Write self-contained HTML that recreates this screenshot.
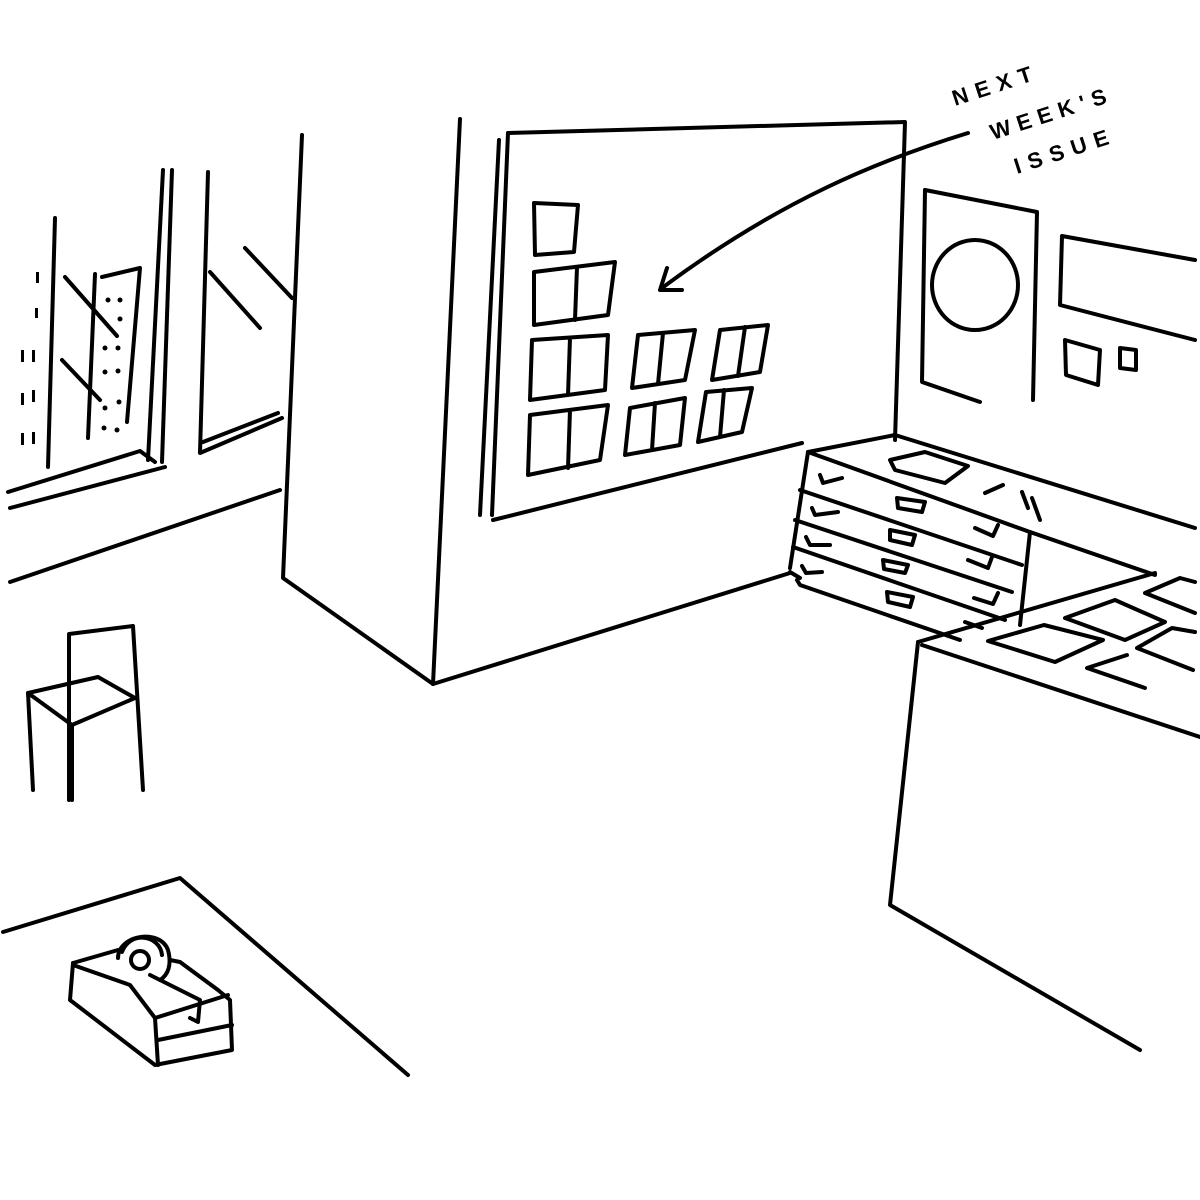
<!DOCTYPE html>
<html><head><meta charset="utf-8"><style>
html,body{margin:0;padding:0;background:#fff;}
svg{display:block}
text{font-family:"Liberation Sans",sans-serif;font-weight:bold;fill:#000}
</style></head><body>
<svg width="1200" height="1200" viewBox="0 0 1200 1200" xmlns="http://www.w3.org/2000/svg">
<g fill="none" stroke="#000" stroke-width="4" stroke-linecap="round" stroke-linejoin="round">
<!-- left windows -->
<path d="M55 218 L48 467"/>
<path d="M95 274 L88 438"/>
<path d="M102 277 L140 268 L127 422"/>
<path d="M65 277 L117 336"/>
<path d="M62 360 L100 400"/>
<path d="M163 170 L148 460"/>
<path d="M172 170 L162 462"/>
<path d="M8 492 L140 451 L155 462"/>
<path d="M10 508 L165 467"/>
<path d="M10 582 L280 490"/>
<path d="M208 172 L200 453 L282 418"/>
<path d="M203 442 L278 413"/>
<path d="M210 272 L260 328"/>
<path d="M245 248 L292 298"/>
<!-- partition -->
<path d="M302 135 L283 578 L433 684 L790 573"/>
<path d="M460 119 L433 684"/>
<!-- board -->
<path d="M499 140 L480 515"/>
<path d="M508 133 L492 515"/>
<path d="M508 133 L905 122 L895 440"/>
<path d="M493 520 L802 443"/>
<!-- squares -->
<path d="M534 203 L578 205 L574 252 L535 255 Z"/>
<path d="M534 272 L615 262 L608 315 L534 325 Z M577 267 L575 320"/>
<path d="M532 340 L608 335 L605 390 L530 400 Z M570 338 L568 395"/>
<path d="M530 415 L608 405 L600 460 L528 475 Z M570 410 L568 468"/>
<path d="M638 335 L695 330 L685 380 L632 388 Z M663 333 L658 384"/>
<path d="M720 330 L768 325 L760 372 L712 380 Z M745 327 L738 376"/>
<path d="M630 408 L685 398 L680 445 L625 455 Z M655 403 L652 450"/>
<path d="M706 392 L752 388 L742 432 L698 442 Z M724 390 L720 437"/>
<!-- arrow -->
<path d="M968 133 C880 160 780 200 662 288"/>
<path d="M667 268 L660 290 L682 290"/>
<!-- poster wall -->
<path d="M925 190 L1037 212 L1033 400"/>
<path d="M925 190 L922 382 L980 402"/>
<ellipse cx="975" cy="285" rx="43" ry="45"/>
<path d="M1195 260 L1062 236 L1060 305 L1195 340"/>
<path d="M1065 340 L1100 350 L1098 385 L1066 375 Z"/>
<path d="M1120 348 L1136 350 L1136 370 L1120 368 Z"/>
<!-- cabinet -->
<path d="M808 452 L895 435 L1195 528"/>
<path d="M808 452 L1030 532 L1155 575"/>
<path d="M808 452 L790 568"/>
<path d="M1030 532 L1020 625"/>
<path d="M800 490 L1022 565"/>
<path d="M795 520 L1012 592"/>
<path d="M793 547 L1005 620"/>
<path d="M797 580 L800 585 L960 640"/>
<path d="M790 572 L800 578"/>
<path d="M890 460 L925 452 L968 466 L945 483 L895 470 Z"/>
<path d="M985 493 L1003 485"/>
<path d="M1022 492 L1028 508 M1032 498 L1040 520"/>
<path d="M820 475 L823 483 L842 478"/>
<path d="M812 508 L815 515 L838 512"/>
<path d="M806 537 L810 545 L830 545"/>
<path d="M802 566 L806 573 L822 572"/>
<path d="M897 498 L925 502 L922 512 L898 508 Z"/>
<path d="M890 530 L915 535 L912 545 L890 540 Z"/>
<path d="M883 560 L908 565 L905 573 L884 569 Z"/>
<path d="M887 592 L913 597 L910 607 L888 602 Z"/>
<path d="M975 528 L993 536 L998 525"/>
<path d="M968 560 L988 568 L992 557"/>
<path d="M974 598 L993 604 L998 593"/>
<path d="M965 622 L982 628"/>
<!-- counter -->
<path d="M918 642 L1155 573"/>
<path d="M922 645 L1200 737"/>
<path d="M918 642 L890 905 L1140 1050"/>
<path d="M988 641 L1044 625 L1103 640 L1055 662 Z"/>
<path d="M1065 618 L1115 600 L1165 622 L1125 640 Z"/>
<path d="M1195 613 L1145 593 L1180 578 L1195 582"/>
<path d="M1193 670 L1137 648 L1172 628 L1195 632"/>
<path d="M1145 688 L1087 668 L1127 655"/>
<!-- chair -->
<path d="M69 800 L69 634 L133 626 L143 790"/>
<path d="M28 693 L98 677 L135 698 L72 725 Z"/>
<path d="M28 693 L33 790"/>
<path d="M72 725 L72 800"/>
<!-- table -->
<path d="M3 932 L180 878 L408 1075"/>
<!-- tape dispenser -->
<path d="M73 963 L118 950"/>
<path d="M73 963 L70 1000 L155 1065 L232 1050 L230 1000 L218 990 L180 962 L170 960"/>
<path d="M73 965 L130 985 L155 1018 L228 995"/>
<path d="M158 1040 L232 1025"/>
<path d="M155 1018 L158 1065"/>
<path d="M118 958 C118 935 160 928 168 950 C172 965 168 975 160 980"/>
<path d="M122 952 C130 930 160 935 162 955"/>
<circle cx="140" cy="960" r="9"/>
<path d="M150 975 L200 1000 L198 1022 L190 1018"/>
</g>
<g fill="#000">
<rect x="36" y="272" width="3" height="11"/><rect x="35" y="308" width="3" height="10"/>
<rect x="21" y="350" width="3" height="12"/><rect x="32" y="350" width="3" height="12"/>
<rect x="21" y="393" width="3" height="12"/><rect x="32" y="390" width="3" height="12"/>
<rect x="21" y="433" width="3" height="12"/><rect x="32" y="432" width="3" height="12"/>
<circle cx="108" cy="300" r="2.5"/><circle cx="120" cy="300" r="2.5"/><circle cx="120" cy="319" r="2.5"/>
<circle cx="105" cy="348" r="2.5"/><circle cx="118" cy="348" r="2.5"/><circle cx="105" cy="372" r="2.5"/>
<circle cx="118" cy="371" r="2.5"/><circle cx="119" cy="402" r="2.5"/><circle cx="105" cy="408" r="2.5"/>
<circle cx="104" cy="428" r="2.5"/><circle cx="117" cy="430" r="2.5"/>
</g>
<text transform="translate(955,106) rotate(-18)" font-size="22" font-weight="normal" letter-spacing="8">NEXT</text>
<text transform="translate(993,140) rotate(-18)" font-size="22" font-weight="normal" letter-spacing="7">WEEK'S</text>
<text transform="translate(1017,174) rotate(-18)" font-size="22" font-weight="normal" letter-spacing="8">ISSUE</text>
</svg>
</body></html>
